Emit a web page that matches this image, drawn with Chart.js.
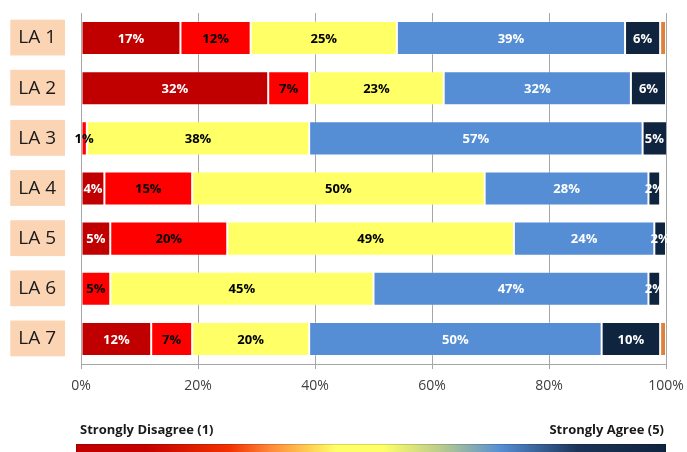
<!DOCTYPE html>
<html>
<head>
<meta charset="utf-8">
<title>LA ratings</title>
<script src="https://cdn.jsdelivr.net/npm/chart.js@4"></script>
<style>
  html, body { margin: 0; background: #fff; }
  canvas { display: block; }
</style>
</head>
<body>
<canvas id="chart" width="687" height="452"></canvas>
<script>
// share of answers per local authority, 1 = strongly disagree ... 5 = strongly agree
const areas = ['LA 1', 'LA 2', 'LA 3', 'LA 4', 'LA 5', 'LA 6', 'LA 7'];
const score1 = [17, 32, 0, 4, 5, 0, 12];
const score2 = [12, 7, 1, 15, 20, 5, 7];
const score3 = [25, 23, 38, 50, 49, 45, 20];
const score4 = [39, 32, 57, 28, 24, 47, 50];
const score5 = [6, 6, 5, 2, 2, 2, 10];
const noAnswer = [1, 0, 0, 0, 0, 0, 1];
const xTicks = [0, 20, 40, 60, 80, 100];

const keyStops = [
  [0, '#C00000'], [0.12, '#C40200'], [0.26, '#F23200'], [0.33, '#FF8A3A'],
  [0.44, '#FFFF66'], [0.52, '#FFFF66'], [0.62, '#B9CA8E'], [0.72, '#558ED5'],
  [0.85, '#1C3458'], [1, '#0F243E']
];

const FONT = '"Open Sans", "DejaVu Sans", sans-serif';

function series(label, data, color, labelColor) {
  return {
    label, data,
    backgroundColor: color,
    borderColor: 'rgba(255,255,255,0.25)',
    borderWidth: 1,
    borderSkipped: false,
    labelColor
  };
}

// percentage text in the middle of each segment
const segmentLabels = {
  id: 'segmentLabels',
  afterDatasetsDraw(chart) {
    const { ctx, chartArea } = chart;
    ctx.save();
    ctx.beginPath();
    ctx.rect(0, chartArea.top, chartArea.right + 1, chartArea.height);
    ctx.clip();
    ctx.font = 'bold 13px ' + FONT;
    ctx.textAlign = 'center';
    ctx.textBaseline = 'middle';
    chart.data.datasets.forEach((ds, i) => {
      if (!ds.labelColor) return;
      chart.getDatasetMeta(i).data.forEach((bar, j) => {
        const v = ds.data[j];
        if (!v) return;
        const x0 = Math.max(bar.base, chartArea.left);
        const x1 = Math.min(bar.x, chartArea.right);
        ctx.fillStyle = ds.labelColor;
        ctx.fillText(v + '%', (x0 + x1) / 2, bar.y + 1);
      });
    });
    ctx.restore();
  }
};

// colour key under the axis
const scaleKey = {
  id: 'scaleKey',
  afterDraw(chart) {
    const { ctx, chartArea } = chart;
    const x0 = chartArea.left - 5, x1 = chartArea.right;
    const top = 444;
    ctx.save();
    ctx.font = 'bold 13px ' + FONT;
    ctx.fillStyle = '#1a1a1a';
    ctx.textBaseline = 'middle';
    ctx.textAlign = 'left';
    ctx.fillText('Strongly Disagree (1)', x0 + 4, 430);
    ctx.textAlign = 'right';
    ctx.fillText('Strongly Agree (5)', x1 - 2, 430);
    const g = ctx.createLinearGradient(x0, 0, x1, 0);
    keyStops.forEach(([p, c]) => g.addColorStop(p, c));
    ctx.fillStyle = g;
    ctx.fillRect(x0, top, x1 - x0, 14);
    ctx.strokeStyle = 'rgba(0,0,0,0.15)';
    ctx.lineWidth = 1;
    ctx.strokeRect(x0 + 0.5, top + 0.5, x1 - x0 - 1, 14);
    ctx.restore();
  }
};

new Chart(document.getElementById('chart'), {
  type: 'bar',
  data: {
    labels: areas,
    datasets: [
      series('1', score1, '#C00000', '#ffffff'),
      series('2', score2, '#FF0000', '#000000'),
      series('3', score3, '#FFFF66', '#000000'),
      series('4', score4, '#558ED5', '#ffffff'),
      series('5', score5, '#0F243E', '#ffffff'),
      series('n/a', noAnswer, '#E0803A', null)
    ]
  },
  options: {
    indexAxis: 'y',
    responsive: false,
    animation: false,
    barPercentage: 0.68,
    categoryPercentage: 1,
    layout: { padding: { top: 13, right: 21, bottom: 48, left: 0 } },
    plugins: {
      legend: { display: false },
      tooltip: { enabled: false }
    },
    scales: {
      x: {
        stacked: true,
        min: 0,
        max: 100,
        afterBuildTicks: s => { s.ticks = xTicks.map(v => ({ value: v })); },
        afterFit: s => { s.height = 40; s.paddingLeft = 0; s.paddingRight = 0; },
        grid: { color: '#A6A6A6', tickLength: 5, drawTicks: true },
        border: { color: '#A6A6A6' },
        ticks: {
          padding: 9,
          color: '#404040',
          font: { family: FONT, size: 14 },
          callback: v => v + '%'
        }
      },
      y: {
        stacked: true,
        afterFit: s => { s.width = 81; s.paddingTop = 0; s.paddingBottom = 0; },
        grid: { display: false, drawTicks: false },
        border: { display: true, color: '#A6A6A6' },
        ticks: {
          padding: 25,
          color: '#1a1a1a',
          font: { family: FONT, size: 19 },
          showLabelBackdrop: true,
          backdropColor: '#FBD4B4',
          backdropPadding: { top: 7, bottom: 6, left: 8, right: 9 }
        }
      }
    }
  },
  plugins: [segmentLabels, scaleKey]
});
</script>
</body>
</html>
